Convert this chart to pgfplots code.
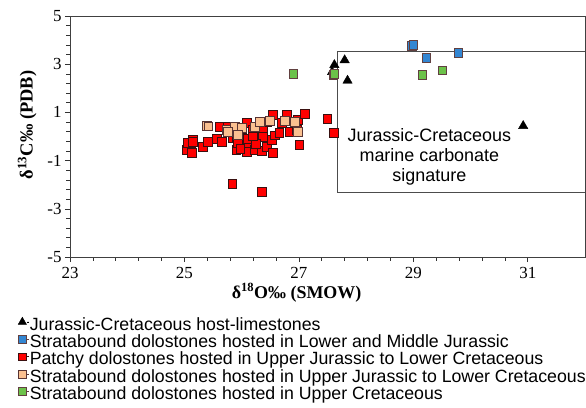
\documentclass[border=0pt]{standalone}
\usepackage{pgfplots}
\pgfplotsset{compat=1.18}
\usepackage{fontspec}
\setmainfont{Liberation Serif}
\newfontfamily\sans{Liberation Sans}
\definecolor{cblue}{HTML}{3386D2}
\definecolor{cred}{HTML}{FF0000}
\definecolor{cpeach}{HTML}{FAC090}
\definecolor{cgreen}{HTML}{6CC24A}
\definecolor{edge}{HTML}{3A1010}
\begin{document}
\begin{tikzpicture}
\useasboundingbox (-70bp,-151bp) rectangle (516bp,257bp);
\begin{axis}[
  scale only axis, width=515bp, height=241bp,
  at={(0,0)}, anchor=south west,
  xmin=23, xmax=32, ymin=-5, ymax=5,
  xtick={23,25,27,29,31}, xticklabels={23,25,27,29,31},
  ytick={-5,-3,-1,1,3,5}, yticklabels={-5,-3,-1,1,3,5},
  minor tick num=4,
  tick align=outside,
  xtick pos=bottom, ytick pos=left,
  major tick length=5bp, minor tick length=3.5bp,
  axis line style={black!75, line width=0.7bp},
  every tick/.style={black!80, line width=0.6bp},
  tick label style={font=\fontsize{17}{17}\selectfont},
  xticklabel style={yshift=-2bp},
  xlabel={\textbf{δ\textsuperscript{18}O‰ (SMOW)}},
  ylabel={\textbf{δ\textsuperscript{13}C‰ (PDB)}},
  every axis x label/.style={at={(rel axis cs:0.44,0)}, anchor=north, yshift=-23bp, font=\fontsize{18}{18}\selectfont},
  every axis y label/.style={at={(rel axis cs:0,0.548)}, anchor=south, rotate=90, yshift=30bp, font=\fontsize{18.5}{18.5}\selectfont},
  legend cell align=left,
  legend style={at={(rel axis cs:0,0)}, anchor=north west, xshift=-55bp, yshift=-58bp,
    draw=none, fill=none, font=\sans\fontsize{17.8}{17.8}\selectfont,
    nodes={inner sep=0.6bp, text height=12.3bp, text depth=3.9bp},
    row sep=0bp},
  legend image code/.code={\draw[#1] plot coordinates {(0bp,4bp)}; \path (5bp,4bp) -- (6.5bp,4bp);},
]
% host limestones
\addplot[only marks, mark=triangle*, mark size=5.4bp, draw=black, fill=black,
  legend image post style={mark size=4.8bp}]
  coordinates {(27.62,2.97)(27.80,3.17)(27.85,2.32)(27.58,2.68)(30.92,0.44)};
\addlegendentry{Jurassic-Cretaceous host-limestones}
% blue
\addplot[only marks, mark=square*, mark size=4.3bp, draw=edge!80, fill=cblue, line width=0.7bp,
  legend image post style={mark size=3.8bp}]
  coordinates {(28.97,3.76)(29.00,3.80)(29.23,3.26)(29.79,3.46)};
\addlegendentry{Stratabound dolostones hosted in Lower and Middle Jurassic}
% red
\addplot[only marks, mark=square*, mark size=4.3bp, draw=edge, fill=cred, line width=0.7bp,
  legend image post style={mark size=3.8bp}]
  coordinates {
  (25.04,-0.56)(25.06,-0.27)(25.12,-0.63)(25.13,-0.68)(25.15,-0.15)(25.15,-0.23)
  (25.32,-0.44)(25.41,-0.23)(25.57,-0.10)(25.65,-0.23)(25.62,0.39)(25.76,0.39)
  (25.84,-0.06)(25.91,-0.02)(25.91,-0.56)(25.93,-0.27)(26.09,-0.64)(26.09,-0.27)
  (26.10,-0.10)(26.09,0.56)(26.19,0.27)(26.23,-0.56)(26.35,-0.60)(26.37,-0.02)
  (26.37,0.35)(26.44,-0.44)(26.53,-0.15)(26.54,-0.68)(26.54,0.89)(26.58,0.05)
  (26.66,0.15)(26.70,0.56)(26.79,0.89)(26.84,0.19)(26.96,0.27)(26.98,0.68)
  (27.01,-0.35)(27.10,0.93)(27.50,0.73)(27.61,0.15)(25.84,-1.97)(26.35,-2.30)
  (25.98,-0.50)(26.25,-0.30)(26.00,0.30)(26.45,0.60)(26.20,0.00)};
\addlegendentry{Patchy dolostones hosted in Upper Jurassic to Lower Cretaceous}
% peach
\addplot[only marks, mark=square*, mark size=4.3bp, draw=edge!85, fill=cpeach, line width=0.7bp,
  legend image post style={mark size=3.8bp}]
  coordinates {(25.39,0.44)(25.42,0.42)(25.74,0.27)(25.88,0.39)(26.00,0.35)(25.93,0.06)
  (26.23,0.39)(26.32,0.60)(26.49,0.64)(26.75,0.64)(26.93,0.60)(26.98,0.19)(25.76,0.19)};
\addlegendentry{Stratabound dolostones hosted in Upper Jurassic to Lower Cretaceous}
% green
\addplot[only marks, mark=square*, mark size=4.3bp, draw=edge!80, fill=cgreen, line width=0.7bp,
  legend image post style={mark size=3.8bp}]
  coordinates {(26.90,2.60)(27.60,2.55)(27.62,2.60)(29.16,2.56)(29.51,2.74)};
\addlegendentry{Stratabound dolostones hosted in Upper Cretaceous}
% signature box
\addplot[forget plot, black!70, line width=0.7bp, mark=none]
  coordinates {(32,3.52)(27.67,3.52)(27.67,-2.3)(32,-2.3)};
\node[font=\sans\fontsize{18}{20}\selectfont, align=center] at (axis cs:29.28,-0.84)
  {Jurassic-Cretaceous\\marine carbonate\\signature};
\end{axis}
\end{tikzpicture}
\end{document}
